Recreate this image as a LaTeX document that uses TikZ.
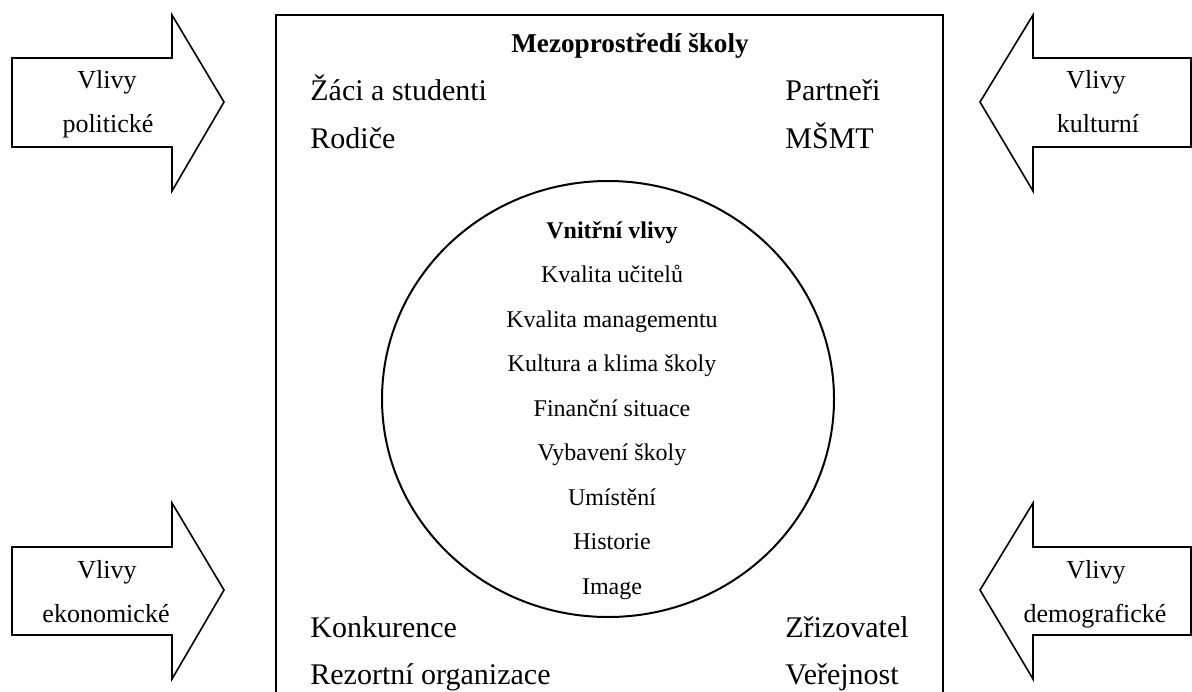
\documentclass[tikz,border=0pt]{standalone}
\usepackage{fontspec}
\setmainfont{Liberation Serif}
\begin{document}
\begin{tikzpicture}[x=0.5pt,y=-0.5pt,
  frame/.style={line width=1pt,line join=miter},
  bigarrow/.style={draw,line width=0.8pt,line join=miter,fill=white},
  lbl/.style={font=\fontsize{15}{18}\selectfont,inner sep=0pt},
  arrowtext/.style={font=\fontsize{13}{15}\selectfont,inner sep=0pt,anchor=base},
  inner/.style={font=\fontsize{12}{14}\selectfont,inner sep=0pt,anchor=base}]
\useasboundingbox (0,0) rectangle (1192,691);

% open-bottom frame of the school's mesoenvironment
\draw[frame] (276,700) -- (276,15) -- (943,15) -- (943,700);

% inner environment
\draw[line width=1pt] (608,399) ellipse [x radius=226, y radius=218];

% block arrows pointing at the frame
\draw[bigarrow] (12,58) -- (172,58) -- (172,15) -- (224,102) -- (172,191) -- (172,147) -- (12,147) -- cycle;
\draw[bigarrow] (12,547) -- (172,547) -- (172,503) -- (224,590) -- (172,679) -- (172,635) -- (12,635) -- cycle;
\draw[bigarrow] (1191,58) -- (1033,58) -- (1033,15) -- (980,102) -- (1033,191) -- (1033,147) -- (1191,147) -- cycle;
\draw[bigarrow] (1191,547) -- (1033,547) -- (1033,503) -- (980,590) -- (1033,679) -- (1033,635) -- (1191,635) -- cycle;

\node[arrowtext] (pol1) at (107,88) {Vlivy};
\node[arrowtext] (pol2) at (108,132) {politické};
\node[arrowtext] (eko1) at (107,578) {Vlivy};
\node[arrowtext] (eko2) at (106,622) {ekonomické};
\node[arrowtext] (kul1) at (1096,88) {Vlivy};
\node[arrowtext] (kul2) at (1098,132) {kulturní};
\node[arrowtext] (dem1) at (1096,578) {Vlivy};
\node[arrowtext] (dem2) at (1095,622) {demografické};

% title and actors of the mesoenvironment
\node[lbl,anchor=base,font=\fontsize{13.6}{16}\selectfont\bfseries] (title) at (630,52) {Mezoprostředí školy};
\node[lbl,anchor=base west] (zaci) at (310,100) {Žáci a studenti};
\node[lbl,anchor=base west] (rodice) at (310,148) {Rodiče};
\node[lbl,anchor=base west] (partneri) at (785,100) {Partneři};
\node[lbl,anchor=base west] (msmt) at (785,148) {MŠMT};
\node[lbl,anchor=base west] (konk) at (310,637) {Konkurence};
\node[lbl,anchor=base west] (rezort) at (310,684) {Rezortní organizace};
\node[lbl,anchor=base west] (zriz) at (785,637) {Zřizovatel};
\node[lbl,anchor=base west] (verej) at (785,684) {Veřejnost};

% internal influences
\node[inner,font=\fontsize{12}{14}\selectfont\bfseries] (vnitrni) at (612,238) {Vnitřní vlivy};
\node[inner] (i1) at (612,282.5) {Kvalita učitelů};
\node[inner] (i2) at (612,327) {Kvalita managementu};
\node[inner] (i3) at (612,371.5) {Kultura a klima školy};
\node[inner] (i4) at (612,416) {Finanční situace};
\node[inner] (i5) at (612,460.5) {Vybavení školy};
\node[inner] (i6) at (612,505) {Umístění};
\node[inner] (i7) at (612,549.5) {Historie};
\node[inner] (i8) at (612,594) {Image};
\end{tikzpicture}
\end{document}
